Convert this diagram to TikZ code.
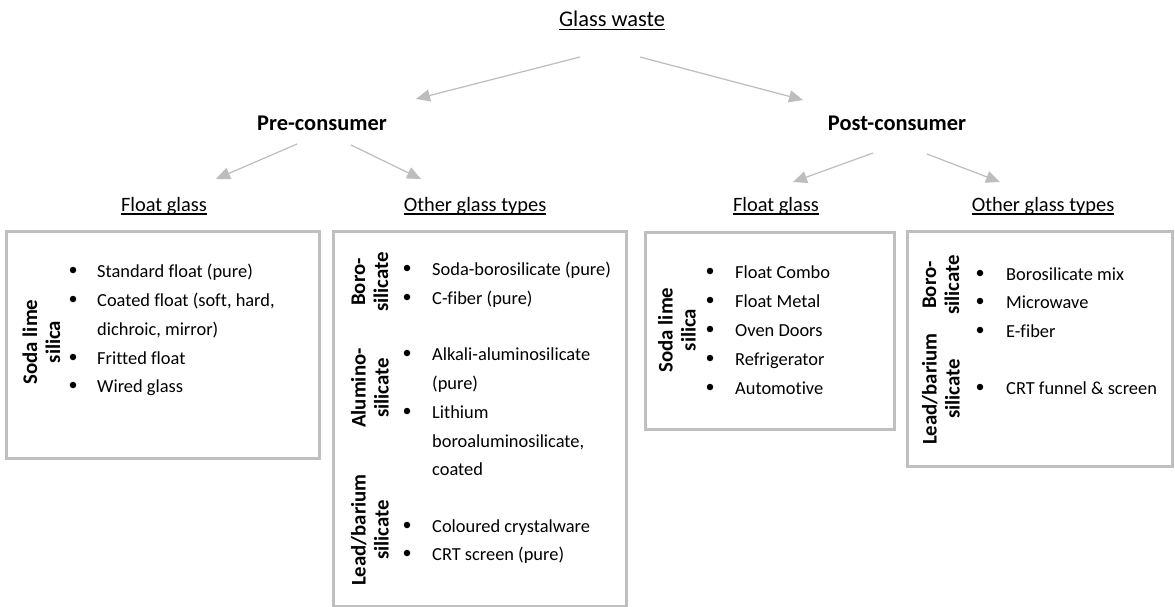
\documentclass[tikz,border=0pt]{standalone}
\usepackage{fontspec}
\setmainfont{Carlito}[Ligatures=NoCommon]
\usetikzlibrary{arrows.meta}
\definecolor{boxgray}{HTML}{BFBFBF}
\definecolor{arrgray}{HTML}{BDBDBD}
\newcommand\myul[2][-3pt]{\setbox0\hbox{#2}\rlap{\rule[#1]{\wd0}{1.2pt}}\box0}
\begin{document}
\begin{tikzpicture}[x=1pt,y=-1pt,
  boxstyle/.style={draw=boxgray, line width=2.8pt, anchor=north west, inner sep=0},
  bodytxt/.style={anchor=base west, inner sep=0, font=\fontsize{18.4}{22}\selectfont},
  lab/.style={rotate=90, align=center, inner sep=0, font=\fontsize{20.8}{23}\selectfont\bfseries},
  head/.style={anchor=base, inner sep=0, font=\fontsize{22.4}{26}\selectfont\bfseries},
  top/.style={anchor=base, inner sep=0, font=\fontsize{22.4}{26}\selectfont},
  sub/.style={anchor=base, inner sep=0, font=\fontsize{20.4}{24}\selectfont},
  bul/.style={circle, fill=black, inner sep=0, minimum size=6.5pt},
  conn/.style={draw=arrgray, line width=1.2pt, -{Triangle[length=14pt,width=12pt]}}]
\useasboundingbox (0,0) rectangle (1175,607);
\fill[white] (0,0) rectangle (1175,607);

% headings
\node[top] (gw) at (612,27) {\myul[-3.5pt]{Glass waste}};
\node[head] (pre) at (322,131) {Pre-consumer};
\node[head] (post) at (897,131) {Post-consumer};
\node[sub] (prefl) at (164,211.5) {\myul{Float glass}};
\node[sub] (preot) at (475,211.5) {\myul{Other glass types}};
\node[sub] (postfl) at (776,211.5) {\myul{Float glass}};
\node[sub] (postot) at (1043,211.5) {\myul{Other glass types}};

% arrow end points
\coordinate (gwL) at (580,57);   \coordinate (preT) at (416,99);
\coordinate (gwR) at (640,57);   \coordinate (postT) at (803,100);
\coordinate (preL) at (297,144); \coordinate (preflT) at (216,179);
\coordinate (preR) at (351,145); \coordinate (preotT) at (421,179);
\coordinate (postL) at (873,153); \coordinate (postflT) at (793,182);
\coordinate (postR) at (927,154); \coordinate (postotT) at (1000,182);
\draw[conn] (gwL) -- (preT);
\draw[conn] (gwR) -- (postT);
\draw[conn] (preL) -- (preflT);
\draw[conn] (preR) -- (preotT);
\draw[conn] (postL) -- (postflT);
\draw[conn] (postR) -- (postotT);

% boxes
\node[boxstyle, minimum width=313pt, minimum height=227pt] (box1) at (5,230) {};
\node[boxstyle, minimum width=293pt, minimum height=375pt] (box2) at (332,230) {};
\node[boxstyle, minimum width=249pt, minimum height=197pt] (box3) at (644,231) {};
\node[boxstyle, minimum width=265pt, minimum height=235pt] (box4) at (906,230) {};

% box 1
\node[lab] (l1) at (41.5,342) {Soda lime\\silica};
\node[bul] (b11) at (73,270) {};
\node[bul] (b12) at (73,299) {};
\node[bul] (b13) at (73,357) {};
\node[bul] (b14) at (73,385) {};
\node[bodytxt] (t11) at (97,277) {Standard float (pure)};
\node[bodytxt] (t12) at (97,306) {Coated float (soft, hard,};
\node[bodytxt] (t12b) at (97,335) {dichroic, mirror)};
\node[bodytxt] (t13) at (97,364) {Fritted float};
\node[bodytxt] (t14) at (97,392) {Wired glass};

% box 2
\node[lab] (l21) at (370,282) {Boro-\\silicate};
\node[lab] (l22) at (370,388) {Alumino-\\silicate};
\node[lab] (l23) at (370,530) {Lead/barium\\silicate};
\node[bul] (b21) at (407,268) {};
\node[bul] (b22) at (407,297) {};
\node[bul] (b23) at (407,353) {};
\node[bul] (b24) at (407,411) {};
\node[bul] (b25) at (407,525) {};
\node[bul] (b26) at (407,553) {};
\node[bodytxt] (t21) at (432,275) {Soda-borosilicate (pure)};
\node[bodytxt] (t22) at (432,304) {C-fiber (pure)};
\node[bodytxt] (t23) at (432,360) {Alkali-aluminosilicate};
\node[bodytxt] (t23b) at (432,389) {(pure)};
\node[bodytxt] (t24) at (432,418) {Lithium};
\node[bodytxt] (t24b) at (432,447) {boroaluminosilicate,};
\node[bodytxt] (t24c) at (432,475) {coated};
\node[bodytxt] (t25) at (432,532) {Coloured crystalware};
\node[bodytxt] (t26) at (432,560) {CRT screen (pure)};

% box 3
\node[lab] (l3) at (677,330) {Soda lime\\silica};
\node[bul] (b31) at (710,271) {};
\node[bul] (b32) at (710,300) {};
\node[bul] (b33) at (710,329) {};
\node[bul] (b34) at (710,358) {};
\node[bul] (b35) at (710,387) {};
\node[bodytxt] (t31) at (735,278) {Float Combo};
\node[bodytxt] (t32) at (735,307) {Float Metal};
\node[bodytxt] (t33) at (735,336) {Oven Doors};
\node[bodytxt] (t34) at (735,365) {Refrigerator};
\node[bodytxt] (t35) at (735,394) {Automotive};

% box 4
\node[lab] (l41) at (941,285) {Boro-\\silicate};
\node[lab] (l42) at (941,389) {Lead/barium\\silicate};
\node[bul] (b41) at (980,273) {};
\node[bul] (b42) at (980,301) {};
\node[bul] (b43) at (980,330) {};
\node[bul] (b44) at (980,387) {};
\node[bodytxt] (t41) at (1006,280) {Borosilicate mix};
\node[bodytxt] (t42) at (1006,308) {Microwave};
\node[bodytxt] (t43) at (1006,337) {E-fiber};
\node[bodytxt] (t44) at (1006,394) {CRT funnel \& screen};
\end{tikzpicture}
\end{document}
